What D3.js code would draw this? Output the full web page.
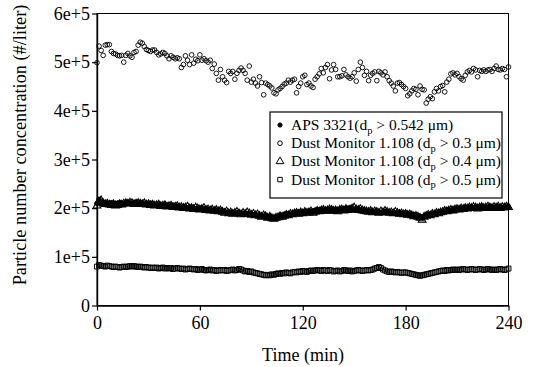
<!DOCTYPE html>
<html>
<head>
<meta charset="utf-8">
<script src="https://cdn.jsdelivr.net/npm/d3@7.9.0/dist/d3.min.js"></script>
<style>
  html, body { margin: 0; padding: 0; background: #fff; }
  svg text { font-family: "Liberation Serif", "Times New Roman", serif; fill: #000; }
</style>
</head>
<body>
<svg id="chart" width="534" height="367"></svg>
<script>
// concentrations in thousands of particles per liter, one reading every 1.2 min
const timeMin = d3.range(201).map(i => i * 1.2);

// Dust Monitor 1.108, dp > 0.3 um (open circles)
const dm03 = [
  499, 533, 524, 514, 535, 536, 536, 522, 518, 517, 514, 513, 514, 500, 514, 518, 513, 510, 520, 522,
  535, 541, 539, 532, 526, 524, 522, 525, 525, 520, 515, 517, 520, 518, 513, 507, 513, 510, 507, 509,
  507, 489, 495, 513, 504, 495, 515, 498, 506, 503, 515,
  504, 507, 503, 500, 504, 487, 496, 477, 463, 485, 470, 463, 458, 481, 477, 481, 465, 477, 483, 488,
  483, 477, 463, 492, 459, 465, 457, 451, 470, 458, 433, 457, 454, 451, 447, 437, 435, 443, 446, 450,
  455, 457, 463, 459, 463, 465, 437, 450, 457, 470,
  473, 454, 457, 451, 448, 465, 470, 476, 487, 478, 489, 495, 466, 484, 495, 485, 470, 470, 472, 485,
  474, 470, 467, 470, 478, 461, 485, 500, 489, 473, 481, 462, 473, 477, 480, 462, 481, 478, 474, 480,
  470, 462, 457, 451, 441, 457, 458, 454, 450, 446,
  431, 435, 441, 446, 444, 433, 451, 444, 443, 416, 424, 429, 425, 439, 446, 441, 450, 452, 439, 459,
  465, 476, 478, 474, 477, 470, 466, 463, 473, 480, 483, 480, 487, 484, 470, 483, 481, 484, 481, 484,
  485, 481, 487, 492, 485, 484, 487, 485, 470, 490
];

// Dust Monitor 1.108, dp > 0.4 um (open triangles)
const dm04 = [
  205, 212, 216, 210, 208, 209, 207, 206, 208, 205, 206, 208, 207, 209, 210, 209, 211, 210, 208, 209, 210,
  209, 208, 210, 207, 208, 206, 207, 205, 206, 207, 204, 205, 206, 203, 204, 205, 202, 203, 204, 201,
  202, 200, 201, 203, 199, 200, 198, 201, 199, 197, 198, 200, 196, 197, 195, 197, 194, 196, 193, 195,
  192, 190, 193, 189, 191, 188, 190, 192, 189, 187, 190, 188, 191, 189, 186,
  188, 185, 187, 184, 182, 185, 183, 180, 182, 179, 178, 180, 181, 183, 182,
  184, 186, 185, 188, 187, 189, 190, 188, 191, 189, 192, 190, 191, 193, 190,
  192, 194, 193, 195, 196, 194, 195, 197, 196, 194, 195, 193, 196, 197, 195, 198, 196, 197, 199, 201, 197, 196, 198, 195, 194,
  193, 192, 194, 191, 193, 192, 190, 193, 191, 194, 192, 190, 191, 189, 192, 190, 188, 189, 187, 188,
  186, 187, 185, 183, 184, 182, 180, 176, 182, 184, 186, 185, 188, 187, 190,
  189, 191, 192, 194, 193, 195, 196, 195, 197, 198, 197, 199, 198, 200, 199,
  201, 200, 202, 201, 199, 201, 202, 200, 201, 203, 201, 200, 202, 201, 203, 200, 202, 201, 203, 202
];

// Dust Monitor 1.108, dp > 0.5 um (open squares)
const dm05 = [
  80, 83, 82, 81, 80, 82, 81, 80, 79, 80, 79, 78, 79, 80, 79, 80, 81, 80, 81, 80, 79,
  80, 79, 78, 79, 78, 77, 78, 77, 78, 76, 77, 78, 76, 77, 76, 77, 75, 76, 77, 76,
  75, 76, 74, 75, 76, 75, 74, 75, 73, 74, 75, 73, 72, 73, 74, 72, 73, 71, 72, 73,
  72, 73, 71, 72, 73, 74, 72, 73, 75, 74, 72, 70, 71, 69, 70,
  68, 67, 66, 65, 64, 63, 62, 63, 62, 64, 63, 65, 66, 65, 67,
  66, 68, 67, 66, 68, 69, 68, 70, 69, 71, 70, 69, 71, 72, 71,
  72, 73, 72, 71, 73, 72, 71, 73, 72, 70, 71, 72, 70, 71, 73, 72, 71, 72, 70, 71, 72, 73, 72, 71, 72,
  73, 72, 73, 74, 76, 77, 79, 77, 74, 72, 70, 69, 70, 69, 68, 69, 68, 67, 68, 68,
  67, 66, 65, 64, 63, 62, 61, 62, 63, 64, 65, 66, 67, 68, 69,
  70, 71, 72, 71, 73, 72, 73, 74, 73, 74, 73, 74, 75, 74, 73,
  74, 75, 74, 73, 74, 75, 74, 73, 74, 75, 74, 73, 74, 73, 74, 75, 74, 73, 74, 76
];

// APS 3321, dp > 0.542 um (filled circles)
const aps = [
  210, 218, 212, 208, 211, 210, 209, 211, 208, 210, 209, 211, 210, 208, 211, 212, 210, 209, 211, 212, 210,
  211, 209, 210, 208, 209, 210, 207, 208, 206, 208, 207, 205, 207, 206, 204, 206, 205, 203, 204, 203,
  202, 203, 201, 200, 202, 199, 200, 198, 199, 200, 197, 198, 199, 196, 197, 196, 195, 196, 194, 195,
  194, 193, 191, 192, 190, 191, 189, 190, 191, 188, 189, 190, 188, 189, 187,
  186, 187, 185, 184, 185, 183, 182, 181, 183, 181, 180, 181, 182, 184, 185,
  186, 187, 188, 187, 189, 190, 191, 190, 192, 191, 193, 192, 194, 193, 194,
  195, 194, 196, 195, 197, 196, 195, 197, 198, 197, 196, 197, 198, 197, 199, 198, 199, 200, 199, 198, 197, 198, 196, 195, 195,
  194, 193, 194, 193, 192, 193, 192, 191, 192, 193, 192, 191, 190, 191, 190, 189, 190, 189, 188, 189,
  188, 187, 186, 185, 186, 184, 183, 181, 183, 185, 186, 187, 188, 189, 190,
  191, 192, 193, 194, 195, 196, 195, 197, 198, 199, 198, 199, 200, 201, 200,
  201, 202, 201, 202, 201, 202, 203, 202, 201, 202, 203, 202, 201, 202, 203, 202, 201, 202, 203, 202
];

const xTicks = [0, 60, 120, 180, 240];
const yTicks = [0, 100, 200, 300, 400, 500, 600];

// legend text: before subscript, subscript, after subscript
const legendLabels = [
  ["APS 3321(d", "p", " > 0.542 \u03bcm)"],
  ["Dust Monitor 1.108 (d", "p", " > 0.3 \u03bcm)"],
  ["Dust Monitor 1.108 (d", "p", " > 0.4 \u03bcm)"],
  ["Dust Monitor 1.108 (d", "p", " > 0.5 \u03bcm)"]
];

const svg = d3.select('#chart');
const x = d3.scaleLinear().domain([0, 240]).range([97, 508.5]);
const y = d3.scaleLinear().domain([0, 600]).range([305.5, 13.5]);

// frame
svg.append('rect')
  .attr('x', 97).attr('y', 13.5)
  .attr('width', 411.5).attr('height', 292)
  .attr('fill', 'none').attr('stroke', '#000').attr('stroke-width', 1);

// marker styles per series, drawn in this order
const series = [
  { values: dm03, type: d3.symbolCircle, size: 17, fill: 'none', sw: 0.9 },
  { values: dm05, type: d3.symbolSquare, size: 24, fill: 'none', sw: 1 },
  { values: dm04, type: d3.symbolTriangle, size: 26, fill: 'none', sw: 1.1 },
  { values: aps, type: d3.symbolCircle, size: 18, fill: '#000', sw: 0.9 }
];

series.forEach(s => {
  svg.append('g')
    .selectAll('path')
    .data(s.values)
    .join('path')
    .attr('transform', (d, i) => `translate(${x(timeMin[i])},${y(d)})`)
    .attr('d', d3.symbol().type(s.type).size(s.size))
    .attr('fill', s.fill)
    .attr('stroke', '#000')
    .attr('stroke-width', s.sw);
});

// axes
const xAxis = svg.append('g')
  .attr('transform', 'translate(0,305.5)')
  .call(d3.axisBottom(x).tickValues(xTicks).tickSize(5).tickSizeOuter(0).tickPadding(6));
const yAxis = svg.append('g')
  .attr('transform', 'translate(97,0)')
  .call(d3.axisLeft(y).tickValues(yTicks).tickSize(5).tickSizeOuter(0).tickPadding(2)
    .tickFormat(d => d === 0 ? '0' : `${d / 100}e+5`));

[xAxis, yAxis].forEach(a => {
  a.selectAll('text').attr('font-size', 18).attr('font-family', null).attr('fill', '#000');
  a.selectAll('line').attr('stroke', '#000').attr('stroke-width', 1.2);
  a.select('.domain').attr('stroke', '#000').attr('stroke-width', 1.4);
});

// axis titles
svg.append('text')
  .attr('x', 303).attr('y', 361)
  .attr('text-anchor', 'middle')
  .attr('font-size', 18)
  .text('Time (min)');

svg.append('text')
  .attr('transform', 'translate(26,145) rotate(-90)')
  .attr('text-anchor', 'middle')
  .attr('font-size', 18.3)
  .text('Particle number concentration (#/liter)');

// legend
const legend = svg.append('g');
legend.append('rect')
  .attr('x', 270).attr('y', 112)
  .attr('width', 232).attr('height', 86)
  .attr('fill', '#fff').attr('stroke', '#000').attr('stroke-width', 1.2);

const legendSymbols = [
  { type: d3.symbolCircle, size: 14, fill: '#000' },
  { type: d3.symbolCircle, size: 17, fill: 'none' },
  { type: d3.symbolTriangle, size: 26, fill: 'none' },
  { type: d3.symbolSquare, size: 20, fill: 'none' }
];

legendLabels.forEach((lab, i) => {
  const cy = 125 + i * 18.2;
  const m = legendSymbols[i];
  legend.append('path')
    .attr('transform', `translate(280,${cy})`)
    .attr('d', d3.symbol().type(m.type).size(m.size))
    .attr('fill', m.fill)
    .attr('stroke', '#000')
    .attr('stroke-width', 1);
  const t = legend.append('text')
    .attr('x', 291).attr('y', cy + 5)
    .attr('font-size', 15.5);
  t.append('tspan').text(lab[0]);
  t.append('tspan').attr('font-size', 10.5).attr('dy', 3.5).text(lab[1]);
  t.append('tspan').attr('dy', -3.5).text(lab[2]);
});
</script>
</body>
</html>
